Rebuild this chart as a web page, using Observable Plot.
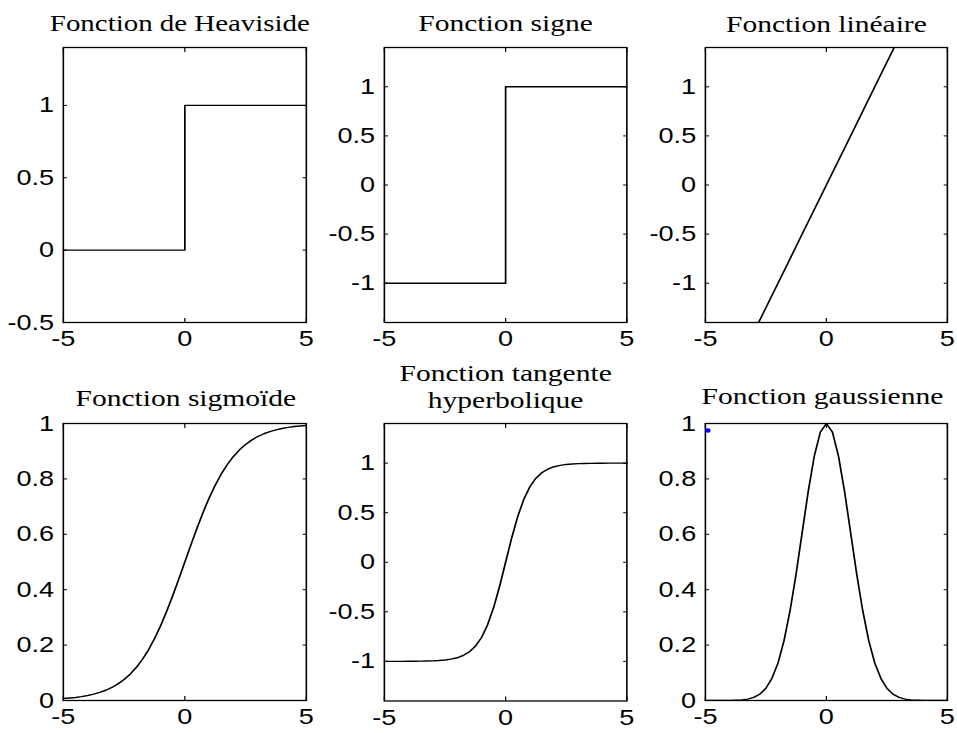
<!DOCTYPE html>
<html><head><meta charset="utf-8">
<script src="https://cdn.jsdelivr.net/npm/d3@7"></script>
<script src="https://cdn.jsdelivr.net/npm/@observablehq/plot@0.6"></script>
<style>
html,body{margin:0;padding:0;background:#fff;}
#stage{position:relative;width:957px;height:733px;overflow:hidden;background:#fff;}
#inner{position:absolute;left:0;top:0;height:733px;transform-origin:0 0;}
.panel{position:absolute;width:400px;}
.panel svg{max-width:none !important;}
</style></head><body>
<div id="stage"><div id="inner"></div></div>
<script>
// ---- data ----
const xs = [-5,-4.75,-4.5,-4.25,-4,-3.75,-3.5,-3.25,-3,-2.75,-2.5,-2.25,-2,-1.75,-1.5,-1.25,-1,-0.75,-0.5,-0.25,0,0.25,0.5,0.75,1,1.25,1.5,1.75,2,2.25,2.5,2.75,3,3.25,3.5,3.75,4,4.25,4.5,4.75,5];
const heavisideX = [-5, 0, 0, 5];
const heavisideY = [0, 0, 1, 1];
const signeX = [-5, 0, 0, 5];
const signeY = [-1, -1, 1, 1];
const linearX = [-5,-4,-3,-2,-1,0,1,2,3,4,5];
const linearY = [-2.5,-2,-1.5,-1,-0.5,0,0.5,1,1.5,2,2.5];
const sigmoidY = [0.007,0.009,0.011,0.014,0.018,0.023,0.029,0.037,0.047,0.060,0.076,0.095,0.119,0.148,0.182,0.223,0.269,0.321,0.378,0.438,0.500,0.562,0.622,0.679,0.731,0.777,0.818,0.852,0.881,0.905,0.924,0.940,0.953,0.963,0.971,0.977,0.982,0.986,0.989,0.991,0.993];
const tanhY = [-1.000,-1.000,-1.000,-1.000,-0.999,-0.999,-0.998,-0.997,-0.995,-0.992,-0.987,-0.978,-0.964,-0.941,-0.905,-0.848,-0.762,-0.635,-0.462,-0.245,0,0.245,0.462,0.635,0.762,0.848,0.905,0.941,0.964,0.978,0.987,0.992,0.995,0.997,0.998,0.999,0.999,1.000,1.000,1.000,1.000];
const gaussY = [0.000,0.000,0.000,0.000,0.000,0.001,0.002,0.005,0.011,0.023,0.044,0.080,0.135,0.216,0.325,0.458,0.607,0.755,0.882,0.969,1.000,0.969,0.882,0.755,0.607,0.458,0.325,0.216,0.135,0.080,0.044,0.023,0.011,0.005,0.002,0.001,0.000,0.000,0.000,0.000,0.000];
const blueDotX = [-4.9];
const blueDotY = [0.975];
const titles = ["Fonction de Heaviside", "Fonction signe", "Fonction linéaire", "Fonction sigmoïde", "Fonction tangente\nhyperbolique", "Fonction gaussienne"];
const xTicks = [-5, 0, 5];
const yTicksHeaviside = [-0.5, 0, 0.5, 1];
const yTicksSym = [-1, -0.5, 0, 0.5, 1];
const yTicksUnit = [0, 0.2, 0.4, 0.6, 0.8, 1];
const yDomainHeaviside = [-0.5, 1.4];
const yDomainSym = [-1.4, 1.4];
const yDomainUnit = [0, 1];

// ---- layout ----
const S = 1.23; // horizontal stretch of the reference image
const inner = document.getElementById("inner");
inner.style.width = (957 / S) + "px";
inner.style.transform = `scaleX(${S})`;

const panels = [
  {title: titles[0], x: heavisideX, y: heavisideY, yDomain: yDomainHeaviside, yTicks: yTicksHeaviside, box: [63, 306, 47, 322], gap: 17, tdx: -5, tfs: 23.5},
  {title: titles[1], x: signeX, y: signeY, yDomain: yDomainSym, yTicks: yTicksSym, box: [383.5, 626, 47, 322], gap: 17, tdx: 0, tfs: 24},
  {title: titles[2], x: linearX, y: linearY, yDomain: yDomainSym, yTicks: yTicksSym, box: [705, 947, 47, 322], gap: 16, tdx: 0, tfs: 24},
  {title: titles[3], x: xs, y: sigmoidY, yDomain: yDomainUnit, yTicks: yTicksUnit, box: [63, 306, 423, 700], gap: 18, tdx: 1, tfs: 24},
  {title: titles[4], x: xs, y: tanhY, yDomain: yDomainSym, yTicks: yTicksSym, box: [383.5, 626, 422.5, 700], gap: 16, tdx: 0, tfs: 24},
  {title: titles[5], x: xs, y: gaussY, yDomain: yDomainUnit, yTicks: yTicksUnit, box: [705, 947, 423, 700], gap: 20, tdx: -4, tfs: 24, dot: true}
];

const fmt = d => String(d);
const mL = 70, mR = 16, mT = 70, mB = 44;
const tickFont = "'Liberation Sans', Arial, Helvetica, sans-serif";
const titleFont = "'Liberation Serif', 'Times New Roman', Times, serif";

for (const p of panels) {
  const [x0, x1, y0, y1] = p.box;
  const fw = (x1 - x0) / S, fh = y1 - y0;
  const marks = [
    Plot.line(p.x, {x: p.x, y: p.y, stroke: "black", strokeWidth: 1.4, clip: true}),
    Plot.frame({stroke: "black", strokeWidth: 1.3}),
    Plot.axisX(xTicks, {anchor: "bottom", tickSize: -4, tickPadding: 12, tickFormat: fmt, label: null, fontSize: 22, fontFamily: tickFont}),
    Plot.axisX(xTicks, {anchor: "top", tickSize: -4, fill: "none", label: null}),
    Plot.axisY(p.yTicks, {anchor: "left", tickSize: -3.5, tickPadding: 11, tickFormat: fmt, label: null, fontSize: 22, fontFamily: tickFont}),
    Plot.axisY(p.yTicks, {anchor: "right", tickSize: -3.5, fill: "none", label: null}),
    Plot.text([p.title], {text: d => d, frameAnchor: "top", lineAnchor: "bottom", dx: p.tdx / S, dy: -p.gap, fontFamily: titleFont, fontSize: p.tfs, lineHeight: 1.1, fill: "black"})
  ];
  if (p.dot) marks.push(Plot.dot(blueDotX, {x: blueDotX, y: blueDotY, r: 2.2, fill: "#0000ff", stroke: "none"}));
  const w = fw + mL + mR, h = fh + mT + mB;
  const chart = Plot.plot({
    width: w, height: h,
    marginLeft: mL, marginRight: mR, marginTop: mT, marginBottom: mB,
    style: {background: "transparent", overflow: "visible", fontFamily: tickFont, fontSize: "22px", color: "black", maxWidth: "none"},
    x: {domain: [-5, 5]},
    y: {domain: p.yDomain},
    marks
  });
  chart.style.width = w + "px";
  chart.style.height = h + "px";
  const div = document.createElement("div");
  div.className = "panel";
  div.style.left = (x0 / S - mL) + "px";
  div.style.top = (y0 - mT) + "px";
  div.appendChild(chart);
  inner.appendChild(div);
}
</script>
</body></html>
